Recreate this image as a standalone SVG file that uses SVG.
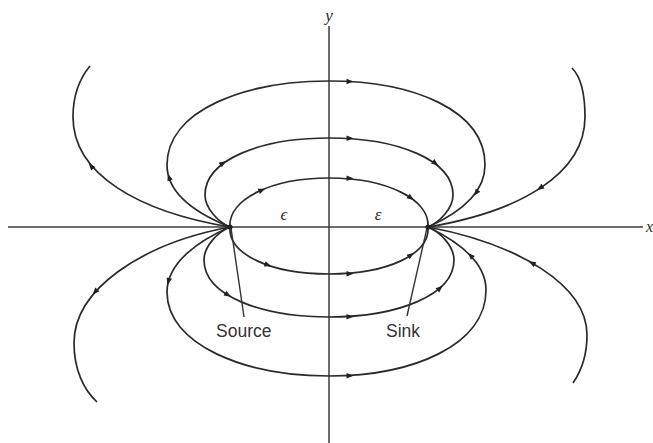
<svg xmlns="http://www.w3.org/2000/svg" xmlns:xlink="http://www.w3.org/1999/xlink" width="653" height="443" viewBox="0 0 653 443">
<style>
.ax{stroke:#3a3d44;stroke-width:1.5;fill:none}
.fl{stroke:#2a2a2a;stroke-width:1.7;fill:none}
.lead{stroke:#333;stroke-width:1.4;fill:none}
.ah{fill:#222}
.lbl{font-family:"Liberation Sans",Arial,sans-serif;font-size:17.5px;fill:#333}
.math{font-family:"Liberation Serif","Times New Roman",serif;font-style:italic;fill:#2a2a2a}
</style>
<defs>
<path id="ah" d="M3.5,0 L-3.5,-2.8 L-3.5,2.8 Z"/>
</defs>
<rect width="653" height="443" fill="#fff"/>
<g id="axes">
<line class="ax" x1="8" y1="227" x2="643" y2="227"/>
<line class="ax" x1="329" y1="26" x2="329" y2="443"/>
<text class="math" x="329" y="21" font-size="17" text-anchor="middle">y</text>
<text class="math" x="646" y="232" font-size="16">x</text>
</g>
<g id="connectors">
<path class="fl" d="M230,227 C228,200 270,178 329,178 C388,178 430,200 428,227"/>
<path class="fl" d="M230,227 C218,222 205,208 205,195 C205,160 260,138 329,138 C398,138 453,160 453,195 C453,208 440,222 428,227"/>
<path class="fl" d="M230,227 C200,215 167,195 167,165 C167,110 245,81 329,81 C413,81 485,110 485,165 C485,195 455,215 428,227"/>
<path class="fl" d="M230,227 C140,212 73,175 73,117 C73,95 80,78 90,66"/>
<path class="fl" d="M572,68 C582,78 585,95 585,117 C585,175 518,212 428,227"/>
<path class="fl" d="M230,227 C228,254 270,274 329,274 C388,274 430,254 428,227"/>
<path class="fl" d="M230,227 C218,232 204,246 204,260 C204,295 260,317 329,317 C398,317 454,295 454,260 C454,246 440,232 428,227"/>
<path class="fl" d="M230,227 C200,240 167,262 167,292 C167,345 245,376 329,376 C413,376 486,345 486,290 C486,260 455,240 428,227"/>
<path class="fl" d="M230,227 C140,244 74,290 74,343 C74,370 84,390 97,402"/>
<path class="fl" d="M428,227 C518,244 587,285 587,335 C587,355 582,370 573,383"/>
<line class="lead" x1="231" y1="228" x2="244" y2="317"/>
<line class="lead" x1="427" y1="228" x2="407" y2="316"/>
</g>
<g id="arrows" class="ah">
<use xlink:href="#ah" transform="translate(91,166) rotate(-130)"/>
<use xlink:href="#ah" transform="translate(540,188) rotate(147)"/>
<use xlink:href="#ah" transform="translate(169,177) rotate(-108)"/>
<use xlink:href="#ah" transform="translate(350,81.5) rotate(0)"/>
<use xlink:href="#ah" transform="translate(476,193) rotate(126)"/>
<use xlink:href="#ah" transform="translate(223,163) rotate(-37)"/>
<use xlink:href="#ah" transform="translate(350,138.3) rotate(0)"/>
<use xlink:href="#ah" transform="translate(435.5,163.4) rotate(37)"/>
<use xlink:href="#ah" transform="translate(262,190) rotate(-23)"/>
<use xlink:href="#ah" transform="translate(350,178.3) rotate(0)"/>
<use xlink:href="#ah" transform="translate(411,198) rotate(35)"/>
<use xlink:href="#ah" transform="translate(95,292) rotate(132)"/>
<use xlink:href="#ah" transform="translate(532,263) rotate(-150)"/>
<use xlink:href="#ah" transform="translate(168.4,281.5) rotate(105)"/>
<use xlink:href="#ah" transform="translate(350,375.8) rotate(0)"/>
<use xlink:href="#ah" transform="translate(470.4,255.4) rotate(-134)"/>
<use xlink:href="#ah" transform="translate(228,295) rotate(31)"/>
<use xlink:href="#ah" transform="translate(350,316.8) rotate(0)"/>
<use xlink:href="#ah" transform="translate(440,288) rotate(-42)"/>
<use xlink:href="#ah" transform="translate(268,265) rotate(19)"/>
<use xlink:href="#ah" transform="translate(350,273.8) rotate(0)"/>
<use xlink:href="#ah" transform="translate(411,255) rotate(-34)"/>
</g>
<g id="source">
<circle cx="230" cy="227" r="2.6" fill="#222"/>
<text class="lbl" x="216" y="337">Source</text>
</g>
<g id="sink">
<circle cx="428" cy="227" r="2.6" fill="#222"/>
<text class="lbl" x="386" y="337">Sink</text>
</g>
<g id="labels">
<text class="math" x="284" y="220" font-size="17" text-anchor="middle">ϵ</text>
<text class="math" x="378" y="220" font-size="17" text-anchor="middle">ε</text>
</g>
</svg>
